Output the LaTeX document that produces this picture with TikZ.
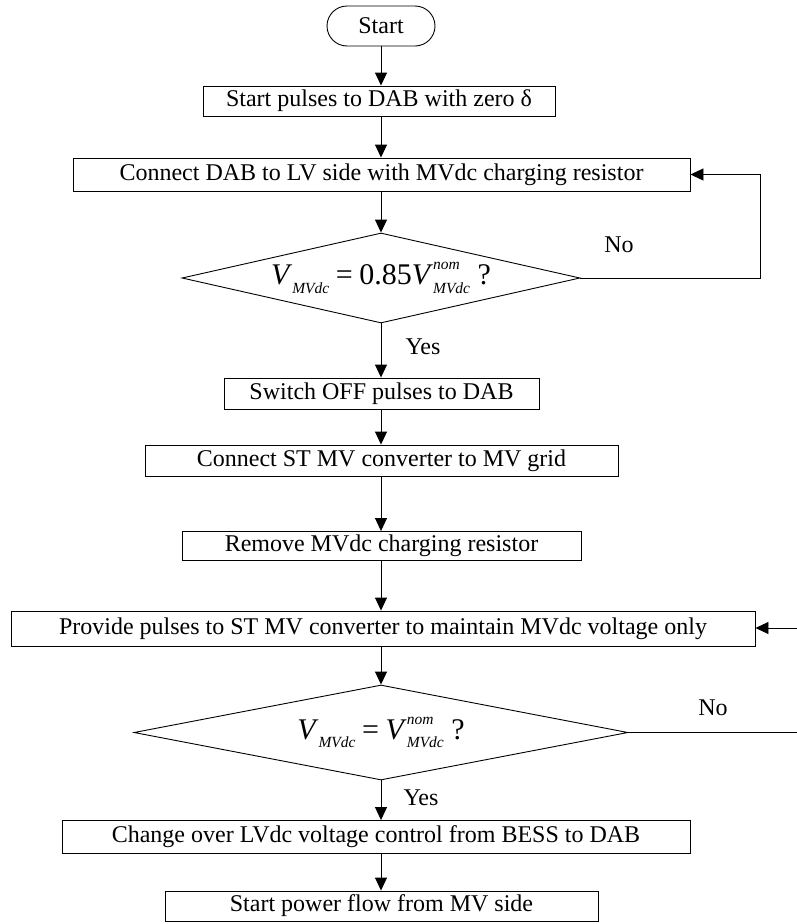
\documentclass[tikz,border=0pt]{standalone}
\usepackage{fontspec}
\setmainfont{Liberation Serif}
\usetikzlibrary{arrows.meta,shapes.geometric}

% flowchart styles
\tikzset{
  flowbox/.style={draw, line width=0.9pt, inner sep=0pt, font=\fontsize{24}{28}\selectfont},
  terminal/.style={flowbox, rounded corners=20pt},
  decision/.style={draw, line width=0.9pt, diamond, inner sep=0pt},
  flow/.style={line width=0.9pt, -{Triangle[length=13pt,width=12pt]}},
  plain/.style={line width=0.9pt},
  answer/.style={font=\fontsize{24}{28}\selectfont},
  cond/.style={inner sep=0pt, font=\fontsize{30}{34}\selectfont},
}
% italic indices set by hand in the serif text face
\newcommand{\idxfont}{\fontsize{15.5}{15.5}\selectfont\itshape}
\newcommand{\lowidx}[1]{\raisebox{-8.5pt}{\idxfont #1}}
\newcommand{\bothidx}[2]{\makebox[0pt][l]{\raisebox{15pt}{\idxfont #1}}\lowidx{#2}}
\newcommand{\eqsign}{\hspace{0.22em}=\hspace{0.22em}}

\begin{document}
\begin{tikzpicture}[x=1pt,y=-1pt]
\useasboundingbox (0,0) rectangle (797,924);

\node[terminal, minimum width=108pt, minimum height=40pt] (start) at (381,26) {Start};
\node[flowbox, minimum width=352pt, minimum height=30pt] (b1) at (379,101) {Start pulses to DAB with zero δ};
\node[flowbox, minimum width=617pt, minimum height=33pt] (b2) at (381.5,174.5) {Connect DAB to LV side with MVdc charging resistor};
\node[decision, minimum width=398pt, minimum height=90pt] (d1) at (381,278) {};
\node[cond] (d1t) at (d1.center) {\textit{V}\lowidx{MVdc}\eqsign 0.85\textit{V}\bothidx{nom}{MVdc} ?};
\node[flowbox, minimum width=315pt, minimum height=31pt] (b3) at (381.5,393.5) {Switch OFF pulses to DAB};
\node[flowbox, minimum width=473pt, minimum height=31pt] (b4) at (381.5,460.5) {Connect ST MV converter to MV grid};
\node[flowbox, minimum width=399pt, minimum height=29pt] (b5) at (381.5,546) {Remove MVdc charging resistor};
\node[flowbox, minimum width=744pt, minimum height=35pt] (b6) at (383,628.5) {Provide pulses to ST MV converter to maintain MVdc voltage only};
\node[decision, minimum width=494pt, minimum height=95pt] (d2) at (381,732.5) {};
\node[cond] (d2t) at (d2.center) {\textit{V}\lowidx{MVdc}\eqsign\textit{V}\bothidx{nom}{MVdc} ?};
\node[flowbox, minimum width=628pt, minimum height=33pt] (b7) at (376,837) {Change over LVdc voltage control from BESS to DAB};
\node[flowbox, minimum width=433pt, minimum height=30pt] (b8) at (381.5,906) {Start power flow from MV side};

\node[answer] (no1) at (619,245) {No};
\node[answer] (yes1) at (423,347) {Yes};
\node[answer] (no2) at (713,708) {No};
\node[answer] (yes2) at (421,798) {Yes};

\coordinate (loop1) at (760,278);
\coordinate (edge1) at (797,628);
\coordinate (edge2) at (797,732.5);

\draw[flow] (start.south) -- (start.south |- b1.north);
\draw[flow] (start.south |- b1.south) -- (start.south |- b2.north);
\draw[flow] (start.south |- b2.south) -- (d1.north);
\draw[flow] (d1.east) -- (loop1) |- (b2.east);
\draw[flow] (d1.south) -- (d1.south |- b3.north);
\draw[flow] (start.south |- b3.south) -- (start.south |- b4.north);
\draw[flow] (start.south |- b4.south) -- (start.south |- b5.north);
\draw[flow] (start.south |- b5.south) -- (start.south |- b6.north);
\draw[flow] (edge1) -- (edge1 -| b6.east);
\draw[flow] (start.south |- b6.south) -- (d2.north);
\draw[plain] (d2.east) -- (edge2);
\draw[flow] (d2.south) -- (d2.south |- b7.north);
\draw[flow] (start.south |- b7.south) -- (start.south |- b8.north);
\end{tikzpicture}
\end{document}
